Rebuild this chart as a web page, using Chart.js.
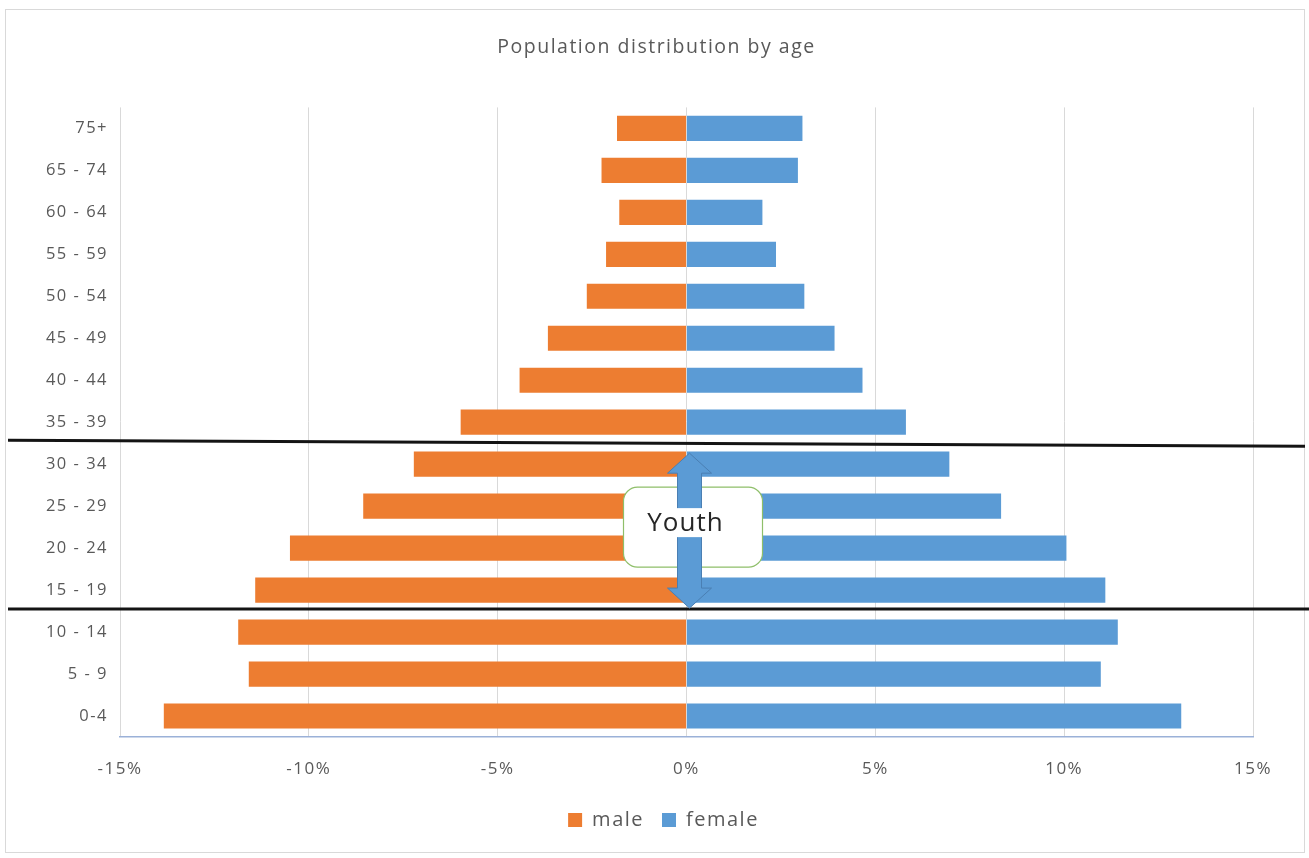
<!DOCTYPE html>
<html>
<head>
<meta charset="utf-8">
<title>Population distribution by age</title>
<script src="https://cdn.jsdelivr.net/npm/chart.js@4.4.1/dist/chart.umd.min.js"></script>
<style>
  html, body { margin: 0; padding: 0; background: #ffffff; }
  canvas { display: block; }
</style>
</head>
<body>
<canvas id="pyramid" width="1309" height="858"></canvas>
<script>
// Age groups, listed top to bottom
const ageGroups = ['75+', '65 - 74', '60 - 64', '55 - 59', '50 - 54', '45 - 49', '40 - 44', '35 - 39',
                   '30 - 34', '25 - 29', '20 - 24', '15 - 19', '10 - 14', '5 - 9', '0-4'];
// Share of population (%); male shares are negative so they extend to the left
const maleShare = [-1.84, -2.25, -1.78, -2.13, -2.64, -3.67, -4.42, -5.98,
                   -7.22, -8.56, -10.5, -11.42, -11.87, -11.59, -13.84];
const femaleShare = [3.07, 2.95, 2.01, 2.37, 3.12, 3.92, 4.66, 5.81,
                     6.96, 8.33, 10.06, 11.09, 11.42, 10.97, 13.10];
const seriesNames = ['male', 'female'];
const axisTicks = [-15, -10, -5, 0, 5, 10, 15];
// Youth band: between the 30 - 34 row and the 15 - 19 row
const youthFirst = '30 - 34';
const youthLast = '15 - 19';
const youthLabel = 'Youth';

const FONT = "'Open Sans', 'Liberation Sans', sans-serif";
const TEXT = '#595959';
const SPACING = '1.5px';

// Slightly tracked-out lettering for every label the chart measures and draws
const tracking = {
  id: 'tracking',
  beforeUpdate(chart) { chart.ctx.letterSpacing = SPACING; },
  beforeLayout(chart) { chart.ctx.letterSpacing = SPACING; },
  beforeDraw(chart) { chart.ctx.letterSpacing = SPACING; }
};

// Centre title and legend on the card rather than on the padded layout box
const recentre = {
  id: 'recentre',
  afterLayout(chart) {
    const shift = (box, dx) => { if (box) { box.left += dx; box.right += dx; } };
    shift(chart.titleBlock, 30);
    shift(chart.legend, 37);
  }
};

// White card with thin grey frame behind the chart
const frame = {
  id: 'frame',
  beforeDraw(chart) {
    const c = chart.ctx;
    c.save();
    c.fillStyle = '#ffffff';
    c.fillRect(0, 0, chart.width, chart.height);
    c.strokeStyle = '#d9d9d9';
    c.lineWidth = 1;
    c.strokeRect(5.5, 9.5, 1299, 843);
    c.restore();
  }
};

// Divider lines, double arrow and label marking the youth band
const youthBand = {
  id: 'youthBand',
  afterDraw(chart) {
    const c = chart.ctx;
    const xs = chart.scales.x, ys = chart.scales.y;
    const iTop = ageGroups.indexOf(youthFirst);
    const iBot = ageGroups.indexOf(youthLast);
    const b1 = ys.getPixelForValue(iTop - 0.5);
    const b2 = ys.getPixelForValue(iBot + 0.5);
    const x0 = xs.getPixelForValue(0);

    c.save();
    // divider lines
    c.strokeStyle = '#141414';
    c.lineWidth = 3;
    c.beginPath();
    c.moveTo(8, b1 - 3);
    c.lineTo(1305, b1 + 3);
    c.stroke();
    c.beginPath();
    c.moveTo(8, b2 - 2);
    c.lineTo(1309, b2 - 2);
    c.stroke();

    // label box
    const cy = ys.getPixelForValue((iTop + iBot) / 2);
    const bx = x0 - 63, bw = 139, by = cy - 40, bh = 80, r = 14;
    c.beginPath();
    c.roundRect(bx, by, bw, bh, r);
    c.fillStyle = '#ffffff';
    c.fill();
    c.strokeStyle = '#8fbf6a';
    c.lineWidth = 1.2;
    c.stroke();

    // double-headed arrow
    const ax = x0 + 3;
    const top = b1 + 10, bot = b2 - 3;
    const head = 20, hw = 22, sw = 12;
    c.beginPath();
    c.moveTo(ax, top);
    c.lineTo(ax + hw, top + head);
    c.lineTo(ax + sw, top + head);
    c.lineTo(ax + sw, bot - head);
    c.lineTo(ax + hw, bot - head);
    c.lineTo(ax, bot);
    c.lineTo(ax - hw, bot - head);
    c.lineTo(ax - sw, bot - head);
    c.lineTo(ax - sw, top + head);
    c.lineTo(ax - hw, top + head);
    c.closePath();
    c.fillStyle = '#5b9bd5';
    c.fill();
    c.strokeStyle = '#4a7fb3';
    c.lineWidth = 1;
    c.stroke();

    // text panel over the arrow shaft
    c.fillStyle = '#ffffff';
    c.fillRect(bx + 2, cy - 19, bw - 4, 29);
    c.fillStyle = '#262626';
    c.font = '26px ' + FONT;
    c.letterSpacing = '1px';
    c.textAlign = 'center';
    c.textBaseline = 'middle';
    c.fillText(youthLabel, x0 - 1, cy - 4);
    c.restore();
  }
};

const canvas = document.getElementById('pyramid');
const ctx = canvas.getContext('2d');

new Chart(ctx, {
  type: 'bar',
  data: {
    labels: ageGroups,
    datasets: [
      { label: seriesNames[0], data: maleShare, backgroundColor: '#ed7d31', borderWidth: 0 },
      { label: seriesNames[1], data: femaleShare, backgroundColor: '#5b9bd5', borderWidth: 0 }
    ]
  },
  options: {
    indexAxis: 'y',
    responsive: false,
    animation: false,
    devicePixelRatio: 1,
    layout: { padding: { left: 0, right: 56, top: 0, bottom: 18 } },
    datasets: { bar: { barPercentage: 0.6, categoryPercentage: 1.0 } },
    scales: {
      x: {
        stacked: true,
        min: axisTicks[0],
        max: axisTicks[axisTicks.length - 1],
        afterBuildTicks(scale) { scale.ticks = axisTicks.map(v => ({ value: v })); },
        afterFit(scale) { scale.height = 55; },
        grid: { color: '#d9d9d9', lineWidth: 1, drawTicks: false },
        border: { display: true, color: '#9bb1d8', width: 1.5 },
        ticks: {
          padding: 22,
          color: TEXT,
          font: { family: FONT, size: 17 },
          callback: v => v + '%'
        }
      },
      y: {
        stacked: true,
        afterFit(scale) { scale.width = 120; },
        grid: { display: false, drawTicks: false },
        border: { display: false },
        ticks: {
          padding: 12,
          color: TEXT,
          font: { family: FONT, size: 16.5 }
        }
      }
    },
    plugins: {
      title: {
        display: true,
        text: 'Population distribution by age',
        color: TEXT,
        font: { family: FONT, size: 19.5, weight: 'normal' },
        padding: { top: 36, bottom: 48 }
      },
      legend: {
        position: 'bottom',
        labels: {
          color: TEXT,
          font: { family: FONT, size: 20 },
          boxWidth: 14,
          boxHeight: 14,
          padding: 18
        }
      },
      tooltip: { enabled: false }
    }
  },
  plugins: [tracking, recentre, frame, youthBand]
});
</script>
</body>
</html>
